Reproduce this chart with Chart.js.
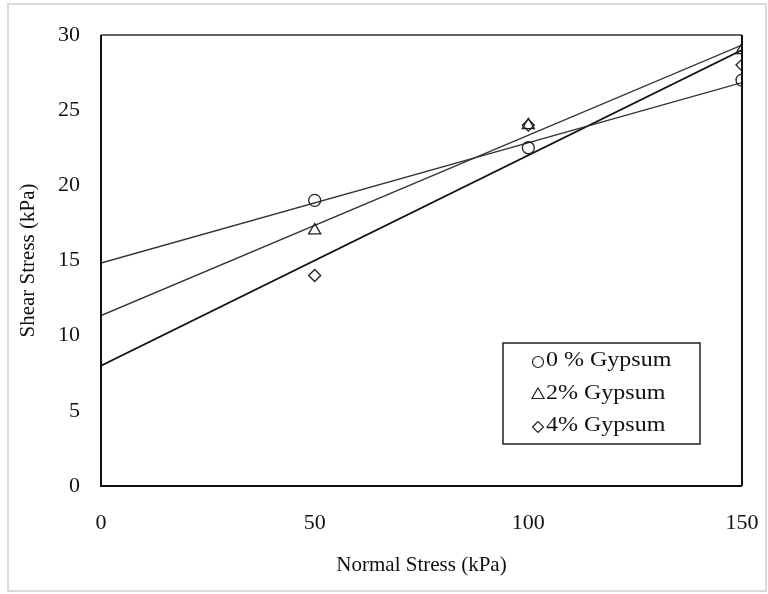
<!DOCTYPE html>
<html>
<head>
<meta charset="utf-8">
<script src="https://cdn.jsdelivr.net/npm/chart.js@4.4.1/dist/chart.umd.min.js"></script>
<style>
  html, body { margin: 0; padding: 0; background: #fff; }
  #wrap { width: 768px; height: 594px; position: relative; }
</style>
</head>
<body>
<div id="wrap"><canvas id="shearChart"></canvas></div>
<script>
// Data
const normalStress = [50, 100, 150];
const gypsum0 = [19, 22.5, 27];
const gypsum2 = [17, 24, 29];
const gypsum4 = [14, 24, 28];
const seriesLabels = ['0 % Gypsum', '2% Gypsum', '4% Gypsum'];
const xTicks = [0, 50, 100, 150];
const yTicks = [0, 5, 10, 15, 20, 25, 30];

const FONT = '"Liberation Serif", "Times New Roman", serif';

// least squares fit, drawn from x = 0 to 150
function trend(xs, ys) {
    const n = xs.length;
    const mx = xs.reduce((a, b) => a + b, 0) / n;
    const my = ys.reduce((a, b) => a + b, 0) / n;
    let sxy = 0, sxx = 0;
    xs.forEach((x, i) => { sxy += (x - mx) * (ys[i] - my); sxx += (x - mx) * (x - mx); });
    const slope = sxy / sxx;
    const icpt = my - slope * mx;
    const x0 = xTicks[0], x1 = xTicks[xTicks.length - 1];
    return [{ x: x0, y: icpt + slope * x0 }, { x: x1, y: icpt + slope * x1 }];
}

const toPts = ys => normalStress.map((x, i) => ({ x: x, y: ys[i] }));

function pointSet(label, ys, style, radius) {
    return {
        type: 'scatter',
        label: label,
        data: toPts(ys),
        pointStyle: style,
        pointRadius: radius,
        pointBackgroundColor: 'rgba(255,255,255,0)',
        pointBorderColor: '#222',
        pointBorderWidth: 1.3,
        showLine: false,
        order: 1
    };
}

function lineSet(ys, color, width) {
    return {
        type: 'line',
        label: '_trend',
        data: trend(normalStress, ys),
        borderColor: color,
        borderWidth: width,
        pointRadius: 0,
        fill: false,
        order: 2
    };
}

// legend marker sizes per style
const legendRadius = { circle: 5.5, triangle: 7, rectRot: 5.5 };

// frame, plot border and in-plot legend
const decorPlugin = {
    id: 'decor',
    beforeDraw(chart) {
        const ctx = chart.ctx;
        ctx.save();
        ctx.fillStyle = '#fff';
        ctx.fillRect(0, 0, chart.width, chart.height);
        ctx.strokeStyle = '#d9d9d9';
        ctx.lineWidth = 2;
        ctx.strokeRect(8, 4, chart.width - 10, chart.height - 7);
        ctx.restore();
    },
    afterDatasetsDraw(chart) {
        const ctx = chart.ctx;
        const a = chart.chartArea;
        ctx.save();
        ctx.lineWidth = 2;
        ctx.strokeStyle = '#666';
        ctx.beginPath();
        ctx.moveTo(a.left, a.top);
        ctx.lineTo(a.right, a.top);
        ctx.stroke();
        ctx.strokeStyle = '#111';
        ctx.beginPath();
        ctx.moveTo(a.right, a.top);
        ctx.lineTo(a.right, a.bottom);
        ctx.moveTo(a.left, a.top);
        ctx.lineTo(a.left, a.bottom);
        ctx.lineTo(a.right, a.bottom);
        ctx.stroke();

        // legend box
        const bx = 503, by = 343, bw = 197, bh = 101;
        ctx.fillStyle = '#fff';
        ctx.fillRect(bx, by, bw, bh);
        ctx.lineWidth = 1.5;
        ctx.strokeStyle = '#222';
        ctx.strokeRect(bx, by, bw, bh);
        const rows = [361, 394, 426];
        chart.data.datasets.filter(d => d.type === 'scatter').forEach((d, i) => {
            ctx.fillStyle = '#fff';
            ctx.strokeStyle = '#222';
            ctx.lineWidth = 1.2;
            Chart.helpers.drawPoint(ctx, {
                pointStyle: d.pointStyle,
                radius: legendRadius[d.pointStyle],
                borderWidth: 1.2
            }, 538, rows[i] + 1);
            ctx.save();
            ctx.translate(546, rows[i]);
            ctx.scale(1.2, 1);
            ctx.fillStyle = '#111';
            ctx.font = '20px ' + FONT;
            ctx.textBaseline = 'middle';
            ctx.textAlign = 'left';
            ctx.fillText(d.label, 0, 0);
            ctx.restore();
        });
        ctx.restore();
    }
};

new Chart(document.getElementById('shearChart'), {
    data: {
        datasets: [
            pointSet(seriesLabels[0], gypsum0, 'circle', 6),
            pointSet(seriesLabels[1], gypsum2, 'triangle', 7),
            pointSet(seriesLabels[2], gypsum4, 'rectRot', 6),
            lineSet(gypsum0, '#333', 1.4),
            lineSet(gypsum2, '#333', 1.4),
            lineSet(gypsum4, '#111', 1.8)
        ]
    },
    options: {
        responsive: true,
        maintainAspectRatio: false,
        animation: false,
        layout: { padding: { left: 10, top: 35, right: 26, bottom: 7 } },
        plugins: {
            legend: { display: false },
            tooltip: { enabled: false }
        },
        scales: {
            x: {
                type: 'linear',
                min: 0,
                max: 150,
                afterBuildTicks: s => { s.ticks = xTicks.map(v => ({ value: v })); },
                afterFit: s => { s.height = 101; s.paddingLeft = 0; s.paddingRight = 0; },
                grid: { display: false, drawTicks: false },
                border: { display: false },
                ticks: { color: '#111', font: { family: FONT, size: 22 }, padding: 24 },
                title: {
                    display: true,
                    text: 'Normal Stress (kPa)',
                    color: '#111',
                    font: { family: FONT, size: 21 },
                    padding: { top: 4, bottom: 9 }
                }
            },
            y: {
                type: 'linear',
                min: 0,
                max: 30,
                afterBuildTicks: s => { s.ticks = yTicks.map(v => ({ value: v })); },
                afterFit: s => { s.width = 91; s.paddingTop = 0; s.paddingBottom = 0; },
                grid: { display: false, drawTicks: false },
                border: { display: false },
                ticks: { color: '#111', font: { family: FONT, size: 22 }, padding: 21 },
                title: {
                    display: true,
                    text: 'Shear Stress (kPa)',
                    color: '#111',
                    font: { family: FONT, size: 21 },
                    padding: { top: 6, bottom: 4 }
                }
            }
        }
    },
    plugins: [decorPlugin]
});
</script>
</body>
</html>
